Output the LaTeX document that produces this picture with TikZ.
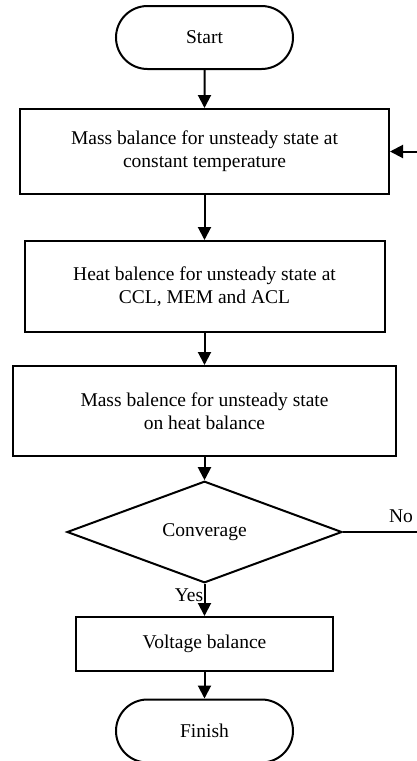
\documentclass[tikz,border=0pt]{standalone}
\usepackage{fontspec}
\setmainfont{Liberation Serif}
\usetikzlibrary{shapes.misc,shapes.geometric,arrows.meta}
\begin{document}
\begin{tikzpicture}[x=1pt,y=-1pt,
  base/.style={draw=black,line width=2pt,align=center,inner sep=0pt,
    font=\fontsize{19.5}{23}\selectfont},
  term/.style={base,rounded rectangle,minimum width=177pt,minimum height=63pt},
  procbox/.style={base,rectangle},
  decision/.style={base,diamond,minimum width=275pt,minimum height=90pt},
  lbl/.style={font=\fontsize{19.5}{23}\selectfont,inner sep=0pt},
  flow/.style={line width=2pt,-{Triangle[length=13pt,width=13pt]}},
  plain/.style={line width=2pt}]
\useasboundingbox (0,0) rectangle (417,761);
\node[term] (start) at (204.5,37.5) {Start};
\node[procbox,minimum width=369pt,minimum height=85pt] (b1) at (204.5,151.5)
  {Mass balance for unsteady state at\\constant temperature};
\node[procbox,minimum width=360pt,minimum height=91pt] (b2) at (204.5,286.5)
  {Heat balence for unsteady state at\\CCL, MEM and ACL};
\node[procbox,minimum width=383pt,minimum height=90pt] (b3) at (204.5,411)
  {Mass balence for unsteady state\\on heat balance};
\node[decision] (dia) at (204.5,532) {Converage};
\node[procbox,minimum width=257pt,minimum height=54pt] (b4) at (204.5,644)
  {Voltage balance};
\node[term] (finish) at (204.5,731) {Finish};
\coordinate (e1) at (417,532);
\coordinate (e2) at (417,151.5);
\draw[flow] (start) -- (b1);
\draw[flow] (b1) -- (b2);
\draw[flow] (b2) -- (b3);
\draw[flow] (b3) -- (dia);
\draw[flow] (dia) -- (b4);
\draw[flow] (b4) -- (finish);
\draw[plain] (dia.east) -- (e1);
\draw[flow] (e2) -- (b1.east);
\node[lbl] (no) at (401,516) {No};
\node[lbl] (yes) at (189,595) {Yes};
\end{tikzpicture}
\end{document}
